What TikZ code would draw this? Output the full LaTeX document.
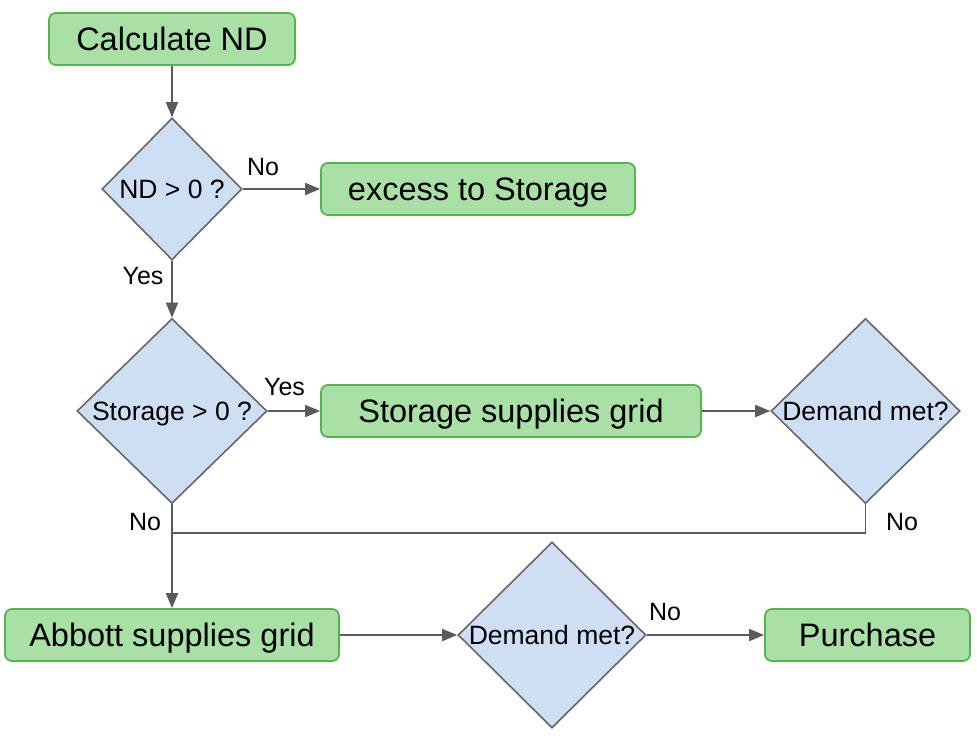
\documentclass[tikz,border=0pt]{standalone}
\usepackage{fontspec}
\setmainfont{Liberation Sans}
\usetikzlibrary{shapes.geometric,arrows.meta}
\definecolor{boxfill}{HTML}{A9E0A5}
\definecolor{boxline}{HTML}{55B54B}
\definecolor{dfill}{HTML}{CFDFF3}
\definecolor{dline}{HTML}{666666}
\definecolor{conn}{HTML}{5A5A5A}
\begin{document}
\begin{tikzpicture}[x=1pt,y=-1pt,
  procbox/.style={draw=boxline,fill=boxfill,line width=1.8pt,rounded corners=7pt,
    minimum height=52pt,inner sep=0pt,text height=23pt,text depth=0pt,
    font=\fontsize{32.5}{36}\selectfont},
  decide/.style={draw=dline,fill=dfill,line width=1.6pt,diamond,inner sep=0pt},
  dtext/.style={font=\fontsize{26.5}{30}\selectfont,text height=19pt,text depth=0pt,inner sep=0pt},
  lab/.style={font=\fontsize{25}{30}\selectfont,inner sep=0pt},
  flow/.style={draw=conn,line width=1.8pt,-{Triangle[length=15pt,width=12pt]}},
  plain/.style={draw=conn,line width=1.8pt}]
\useasboundingbox (0,0) rectangle (977,739);

\node[procbox,minimum width=246pt] (calc) at (172,39) {Calculate ND};
\node[decide,minimum width=140pt,minimum height=142pt,
  label={[dtext]center:ND > 0 ?}] (d1) at (172,189) {};
\node[procbox,minimum width=314pt] (excess) at (478,189) {excess to Storage};
\node[decide,minimum width=190pt,minimum height=185pt,
  label={[dtext]center:Storage > 0 ?}] (d2) at (172,411) {};
\node[procbox,minimum width=380pt] (store) at (511,411) {Storage supplies grid};
\node[decide,minimum width=189pt,minimum height=185pt,
  label={[dtext]center:Demand met?}] (d3) at (865.5,411) {};
\node[procbox,minimum width=334pt] (abbott) at (172,635) {Abbott supplies grid};
\node[decide,minimum width=188pt,minimum height=186pt,
  label={[dtext]center:Demand met?}] (d4) at (552,635) {};
\node[procbox,minimum width=205pt] (purch) at (867.5,635) {Purchase};

\coordinate (j) at (172,533);

\draw[flow] (calc.south) -- (d1.north);
\draw[flow] (d1.east) -- (excess.west);
\draw[flow] (d1.south) -- (d2.north);
\draw[flow] (d2.east) -- (store.west);
\draw[flow] (store.east) -- (d3.west);
\draw[plain] (d3.south) |- (j);
\draw[flow] (d2.south) -- (abbott.north);
\draw[flow] (abbott.east) -- (d4.west);
\draw[flow] (d4.east) -- (purch.west);

\node[lab] (l1) at (263,167) {No};
\node[lab] (l2) at (143,276) {Yes};
\node[lab] (l3) at (284.5,387) {Yes};
\node[lab] (l4) at (145,522) {No};
\node[lab] (l5) at (902,522) {No};
\node[lab] (l6) at (665,612) {No};
\end{tikzpicture}
\end{document}
